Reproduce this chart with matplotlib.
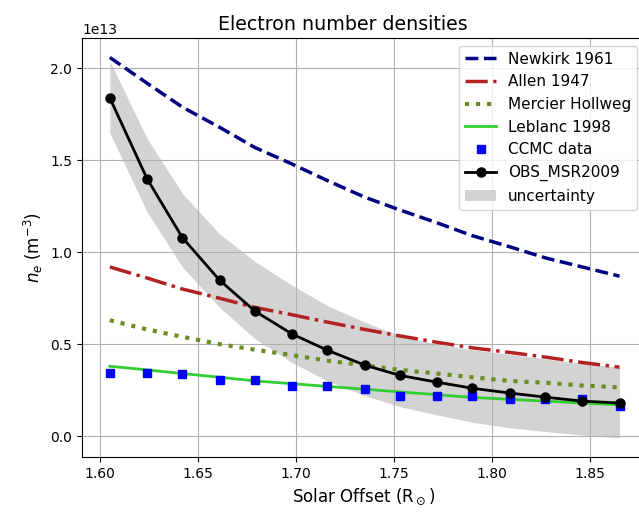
import matplotlib
matplotlib.use("Agg")
import matplotlib.pyplot as plt
import numpy as np

# Solar offset (R_sun) of the sample points
r = [1.605, 1.624, 1.642, 1.661, 1.679, 1.698, 1.716, 1.735,
     1.753, 1.772, 1.790, 1.809, 1.827, 1.846, 1.865]

# density models, units of 1e13 m^-3
newkirk = [2.06, 1.92, 1.79, 1.68, 1.57, 1.48, 1.39, 1.30,
           1.23, 1.16, 1.09, 1.03, 0.97, 0.92, 0.87]
allen = [0.92, 0.86, 0.80, 0.75, 0.70, 0.66, 0.62, 0.58,
         0.545, 0.51, 0.48, 0.455, 0.43, 0.40, 0.375]
mercier = [0.63, 0.58, 0.54, 0.50, 0.47, 0.44, 0.41, 0.385,
           0.36, 0.34, 0.32, 0.30, 0.29, 0.275, 0.265]
leblanc = [0.38, 0.36, 0.34, 0.32, 0.30, 0.285, 0.27, 0.255,
           0.24, 0.225, 0.21, 0.20, 0.19, 0.18, 0.17]
ccmc = [0.345, 0.345, 0.34, 0.305, 0.305, 0.27, 0.27, 0.255,
        0.22, 0.22, 0.22, 0.20, 0.20, 0.20, 0.165]
obs = [1.84, 1.40, 1.08, 0.848, 0.68, 0.555, 0.467, 0.386,
       0.33, 0.293, 0.26, 0.234, 0.212, 0.19, 0.18]
obs_upper = [2.04, 1.62, 1.32, 1.10, 0.95, 0.82, 0.71, 0.62,
             0.545, 0.50, 0.47, 0.445, 0.42, 0.395, 0.375]
obs_lower = [1.65, 1.22, 0.92, 0.70, 0.53, 0.40, 0.30, 0.22,
             0.16, 0.115, 0.075, 0.045, 0.025, 0.005, -0.01]

scale = 1e13

fig = plt.figure(figsize=(6.39, 5.12), dpi=100)
ax = fig.add_axes([0.1283, 0.1074, 0.8811, 0.8184])

ax.plot(r, np.array(newkirk) * scale, '--', color='navy', lw=2.5, label='Newkirk 1961')
ax.plot(r, np.array(allen) * scale, '-.', color='firebrick', lw=2.5, label='Allen 1947')
ax.plot(r, np.array(mercier) * scale, ':', color='olivedrab', lw=3, label='Mercier Hollweg')
ax.plot(r, np.array(leblanc) * scale, '-', color='limegreen', lw=2, label='Leblanc 1998')
ax.plot(r, np.array(ccmc) * scale, 's', color='blue', ms=5.5, label='CCMC data')
ax.plot(r, np.array(obs) * scale, 'o-', color='black', lw=2, ms=6.5, label='OBS_MSR2009')
ax.fill_between(r, np.array(obs_lower) * scale, np.array(obs_upper) * scale,
                color='lightgrey', lw=0, label='uncertainty')

ax.set_xlim(1.5908, 1.878)
ax.set_ylim(-0.114 * scale, 2.166 * scale)
ax.set_xticks([1.60, 1.65, 1.70, 1.75, 1.80, 1.85])
ax.set_yticks(np.array([0.0, 0.5, 1.0, 1.5, 2.0]) * scale)
ax.grid(True)

ax.set_title('Electron number densities', fontsize=13.7, x=0.464)
ax.set_xlabel(r'Solar Offset (R$_\odot$)', fontsize=12)
ax.set_ylabel(r'$n_e$ (m$^{-3}$)', fontsize=12)
ax.legend(loc='upper right', fontsize=11)

fig.savefig('out.png', dpi=100)
